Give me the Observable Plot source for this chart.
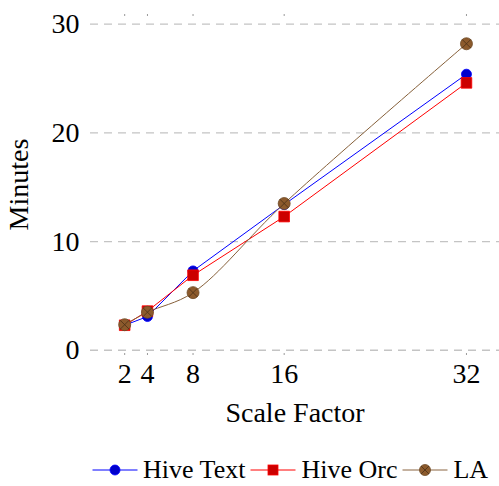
<!DOCTYPE html>
<html>
<head>
<meta charset="utf-8">
<script src="https://cdn.jsdelivr.net/npm/d3@7"></script>
<script src="https://cdn.jsdelivr.net/npm/@observablehq/plot@0.6"></script>
<style>
  body { margin: 0; background: #fff; font-family: "Liberation Serif", "DejaVu Serif", serif; overflow: hidden; }
  #legend { display: flex; align-items: center; margin-left: 92px; margin-top: 32px; height: 20px; font-size: 26px; line-height: 20px; color: #000; white-space: nowrap; }
  #legend .item { display: flex; align-items: center; margin-right: 5px; }
  #legend svg { display: block; }
</style>
</head>
<body>
<div id="chart"></div>
<div id="legend"></div>
<script>
const scaleFactors = [2, 4, 8, 16, 32];
const hiveText = [2.3, 3.1, 7.3, 13.4, 25.4];
const hiveOrc = [2.3, 3.6, 6.9, 12.3, 24.6];
const la = [2.35, 3.5, 5.3, 13.5, 28.2];
const yTicks = [0, 10, 20, 30];
const seriesNames = ["Hive Text", "Hive Orc", "LA"];

const rows = (vals) => scaleFactors.map((x, i) => ({x, y: vals[i]}));
const textRows = rows(hiveText), orcRows = rows(hiveOrc), laRows = rows(la);

// ⊗ cross lines as a custom symbol
const crossSymbol = {
  draw(context, size) {
    const r = Math.sqrt(size / Math.PI) * 0.72;
    context.moveTo(-r, -r); context.lineTo(r, r);
    context.moveTo(-r, r); context.lineTo(r, -r);
  }
};

const font = "Liberation Serif, DejaVu Serif, serif";
const chart = Plot.plot({
  width: 499,
  height: 428,
  marginLeft: 90,
  marginRight: 0,
  marginTop: 15,
  marginBottom: 75,
  style: {fontFamily: font, fontSize: "28px", color: "#000", background: "#fff"},
  x: {domain: [-1, 34.9], ticks: scaleFactors},
  y: {domain: [-0.3, 30.8], ticks: yTicks},
  marks: [
    Plot.ruleY(yTicks, {stroke: "#c4c4c4", strokeWidth: 1.3, strokeDasharray: "8,6"}),
    Plot.axisX({anchor: "top", ticks: scaleFactors, tickSize: 2, tickFormat: () => "", stroke: "#999", label: null}),
    Plot.axisX({anchor: "bottom", ticks: scaleFactors, tickSize: 2, tickPadding: 8, stroke: "#999",
      label: "Scale Factor", labelAnchor: "center", labelArrow: false, labelOffset: 68, fontSize: 28}),
    Plot.axisY({ticks: yTicks, tickSize: 0, tickPadding: 11, label: "Minutes", labelAnchor: "center",
      labelArrow: false, labelOffset: 82, fontSize: 28}),
    Plot.line(textRows, {x: "x", y: "y", stroke: "#0000ff", strokeWidth: 1}),
    Plot.line(orcRows, {x: "x", y: "y", stroke: "#ff0000", strokeWidth: 1}),
    Plot.line(laRows, {x: "x", y: "y", stroke: "#86603a", strokeWidth: 1, curve: "catmull-rom"}),
    Plot.dot(textRows, {x: "x", y: "y", r: 5, fill: "#0000cc", stroke: "#0000ff", strokeWidth: 0.8}),
    Plot.dot(orcRows, {x: "x", y: "y", r: 6, symbol: "square", fill: "#cc0000", stroke: "#ff0000", strokeWidth: 0.8}),
    Plot.dot(laRows, {x: "x", y: "y", r: 6, fill: "#8c5a2c", stroke: "#6e4a26", strokeWidth: 0.8}),
    Plot.dot(laRows, {x: "x", y: "y", r: 6, symbol: crossSymbol, fill: "none", stroke: "#4a3016", strokeWidth: 0.8})
  ]
});
document.getElementById("chart").append(chart);

// Legend
const legendStyles = [
  {line: "#0000ff", fill: "#0000cc", stroke: "#0000ff", kind: "circle"},
  {line: "#ff0000", fill: "#cc0000", stroke: "#ff0000", kind: "square"},
  {line: "#8a6440", fill: "#8c5a2c", stroke: "#6e4a26", kind: "otimes"}
];
const legend = d3.select("#legend");
seriesNames.forEach((name, i) => {
  const s = legendStyles[i];
  const item = legend.append("div").attr("class", "item");
  const svg = item.append("svg").attr("width", 46).attr("height", 20);
  svg.append("line").attr("x1", 0.5).attr("x2", 45.5).attr("y1", 10).attr("y2", 10).attr("stroke", s.line).attr("stroke-width", 1);
  if (s.kind === "circle") svg.append("circle").attr("cx", 23).attr("cy", 10).attr("r", 5).attr("fill", s.fill).attr("stroke", s.stroke).attr("stroke-width", 0.8);
  else if (s.kind === "square") svg.append("rect").attr("x", 18).attr("y", 5).attr("width", 10).attr("height", 10).attr("fill", s.fill).attr("stroke", s.stroke).attr("stroke-width", 0.8);
  else {
    svg.append("circle").attr("cx", 23).attr("cy", 10).attr("r", 5.5).attr("fill", s.fill).attr("stroke", s.stroke).attr("stroke-width", 0.8);
    svg.append("path").attr("d", "M19,6L27,14M19,14L27,6").attr("stroke", "#4a3016").attr("fill", "none").attr("stroke-width", 0.8);
  }
  item.append("span").text(name).style("margin-left", "5px");
});
</script>
</body>
</html>
